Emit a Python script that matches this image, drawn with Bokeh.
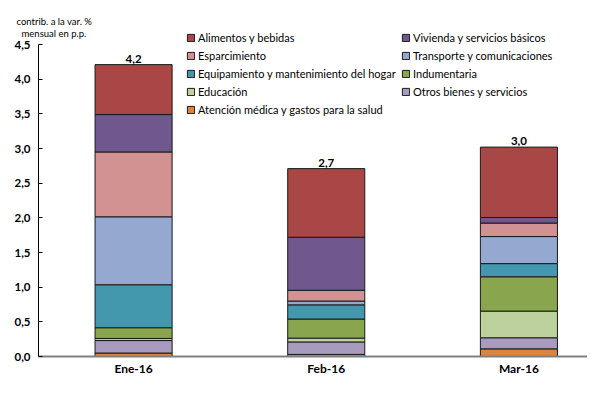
from bokeh.plotting import figure
from bokeh.models import Range1d, FixedTicker, Legend, LegendItem, Title, ColumnDataSource
from bokeh.embed import file_html
from bokeh.resources import INLINE
from bokeh.core.properties import value

months = ["Ene-16", "Feb-16", "Mar-16"]
total_labels = ["4,2", "2,7", "3,0"]

# stack order bottom -> top
series_names = [
    "Atención médica y gastos para la salud",
    "Otros bienes y servicios",
    "Educación",
    "Indumentaria",
    "Equipamiento y mantenimiento del hogar",
    "Transporte y comunicaciones",
    "Esparcimiento",
    "Vivienda y servicios básicos",
    "Alimentos y bebidas",
]
atencion = [0.05, 0.03, 0.11]
otros = [0.18, 0.18, 0.16]
educacion = [0.03, 0.055, 0.385]
indumentaria = [0.155, 0.275, 0.495]
equipamiento = [0.62, 0.205, 0.19]
transporte = [0.98, 0.055, 0.39]
esparcimiento = [0.935, 0.155, 0.195]
vivienda = [0.54, 0.765, 0.08]
alimentos = [0.72, 0.99, 1.015]

y_ticks = [0.0, 0.5, 1.0, 1.5, 2.0, 2.5, 3.0, 3.5, 4.0, 4.5]
y_tick_labels = ["0,0", "0,5", "1,0", "1,5", "2,0", "2,5", "3,0", "3,5", "4,0", "4,5"]

colors = ["#DB843D", "#A99BC0", "#BCD19B", "#89A54E", "#4398AE",
          "#95A9D0", "#D39292", "#70588F", "#A94746"]

legend_col1 = ["Alimentos y bebidas", "Esparcimiento",
               "Equipamiento y mantenimiento del hogar", "Educación",
               "Atención médica y gastos para la salud"]
legend_col2 = ["Vivienda y servicios básicos", "Transporte y comunicaciones",
               "Indumentaria", "Otros bienes y servicios"]

series_values = [atencion, otros, educacion, indumentaria, equipamiento,
                 transporte, esparcimiento, vivienda, alimentos]
keys = ["s%d" % i for i in range(len(series_names))]
xs = list(range(len(months)))
data = {"x": xs}
for k, v in zip(keys, series_values):
    data[k] = v
src = ColumnDataSource(data)

totals = [sum(v[i] for v in series_values) for i in range(len(months))]

FONT = "Lato"

p = figure(width=587, height=378, output_backend="svg", toolbar_location=None,
           x_range=Range1d(-0.4935, 2.356), y_range=Range1d(0, 4.731),
           min_border_left=38, min_border_right=0, min_border_top=28,
           min_border_bottom=0)
p.outline_line_color = None
p.xgrid.visible = False
p.ygrid.visible = False

# axis title (two lines, top-left of the plot frame)
p.add_layout(Title(text="mensual en p.p.", align="left", vertical_align="bottom",
                   offset=-17, standoff=-20, text_font=FONT, text_font_style="normal",
                   text_font_size="9.5px", text_color="#000000"), "above")
p.add_layout(Title(text="contrib. a la var. %", align="left", vertical_align="bottom",
                   offset=-22, standoff=4, text_font=FONT, text_font_style="normal",
                   text_font_size="9.5px", text_color="#000000"), "above")

renderers = p.vbar_stack(keys, x="x", width=0.4, color=colors, line_color="#1a1a1a",
                         line_width=1, source=src)

# totals
tsrc = ColumnDataSource(dict(x=xs, y=totals, t=total_labels))
p.text(x="x", y="y", text="t", source=tsrc, text_align="center",
       text_baseline="bottom", y_offset=-2, text_font=value(FONT),
       text_font_style="bold", text_font_size="11.5px", text_color="#000000")

# axes
p.yaxis.ticker = FixedTicker(ticks=y_ticks)
p.yaxis.major_label_overrides = {t: l for t, l in zip(y_ticks, y_tick_labels)}
p.yaxis.bounds = (0, 4.5)
p.yaxis.major_tick_in = 4
p.yaxis.major_tick_out = 0
p.yaxis.minor_tick_line_color = None
p.yaxis.axis_line_color = "#000000"
p.yaxis.major_tick_line_color = "#000000"
p.yaxis.major_label_standoff = 8
p.yaxis.major_label_text_font = FONT
p.yaxis.major_label_text_font_style = "bold"
p.yaxis.major_label_text_font_size = "11.5px"
p.yaxis.major_label_text_color = "#000000"

p.xaxis.ticker = FixedTicker(ticks=xs)
p.xaxis.major_label_overrides = {x: m for x, m in zip(xs, months)}
p.xaxis.major_tick_line_color = None
p.xaxis.minor_tick_line_color = None
p.xaxis.major_tick_in = 0
p.xaxis.major_tick_out = 0
p.xaxis.axis_line_color = "#808080"
p.xaxis.axis_line_width = 2
p.xaxis.major_label_standoff = 4
p.xaxis.major_label_text_font = FONT
p.xaxis.major_label_text_font_style = "bold"
p.xaxis.major_label_text_font_size = "12px"
p.xaxis.major_label_text_color = "#000000"

rmap = {n: r for n, r in zip(series_names, renderers)}

def make_legend(names, loc):
    lg = Legend(items=[LegendItem(label=n, renderers=[rmap[n]]) for n in names],
                location=loc, orientation="vertical", glyph_width=9, glyph_height=9,
                label_height=13, spacing=5, label_standoff=3, padding=0, margin=0,
                border_line_color=None, background_fill_alpha=0,
                label_text_font=FONT, label_text_font_size="11px",
                label_text_color="#000000")
    return lg

p.add_layout(make_legend(legend_col1, (148, 240)))
p.add_layout(make_legend(legend_col2, (363, 258)))

open("out.html", "w").write(file_html(p, INLINE))
